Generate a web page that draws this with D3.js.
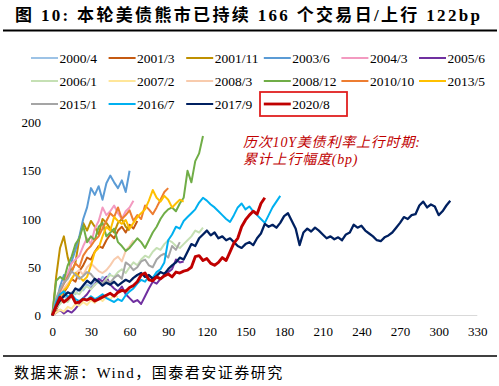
<!DOCTYPE html>
<html>
<head>
<meta charset="utf-8">
<script src="https://cdn.jsdelivr.net/npm/d3@7"></script>
<style>
  body { margin: 0; background: #fff; }
  text { font-family: "Liberation Serif", "Noto Sans CJK SC", serif; }
</style>
</head>
<body>
<script>
// each series: cumulative bp rise, one value every STEP trading days
const STEP = 3;

const s2000_4  = [0, 8, 14, 20, 17, 24, 22, 28, 26, 32, 30, 36, 34, 40, 38, 44];
const s2001_3  = [0, 6, 14, 24, 30, 38, 35, 46, 52, 60, 58, 66, 72, 70, 78, 84, 80, 88, 92, 86, 94, 90, 98];
const s2001_11 = [0, 40, 70, 82, 60, 45, 55, 80, 96, 88, 98, 92, 84, 100, 96, 90, 86, 96, 100, 92, 88];
const s2003_6  = [0, 12, 30, 42, 40, 56, 68, 82, 100, 112, 132, 125, 134, 120, 137, 145, 138, 132, 140, 128, 150];
const s2004_3  = [0, 10, 22, 35, 44, 54, 58, 62, 72, 80, 74, 90, 98, 112, 104, 108, 114, 106, 100, 108, 112, 119];
const s2005_6  = [0, 3, 6, 2, 5, 3, 7, 12, 18, 22, 28, 32, 38, 35, 40, 32, 28, 25, 30, 22, 18, 14, 16, 12, 20, 28, 35, 33, 38, 42, 45, 48, 58, 55, 56];
const s2006_1  = [0, 8, 12, 16, 14, 20, 24, 22, 28, 30, 27, 32, 35, 33, 38, 42, 40, 45, 48, 44, 50, 55, 52, 58, 62, 60, 66, 70, 68, 74, 78, 76, 72, 70, 74, 78, 82, 88, 86, 91];
const s2007_2  = [0, 3, 6, 4, 9, 7, 12, 10, 14, 11, 16, 13, 18, 15, 19, 17, 21, 19];
const s2008_3  = [0, 8, 18, 28, 33, 38, 44, 47, 42, 50, 54, 50, 46, 44, 47, 52, 58, 61, 56, 67, 72, 78];
const s2008_12 = [0, 36, 40, 37, 52, 61, 74, 80, 93, 76, 82, 78, 92, 96, 82, 86, 90, 76, 72, 67, 70, 75, 80, 76, 70, 78, 86, 92, 100, 106, 110, 112, 108, 116, 122, 150, 138, 160, 168, 186];
const s2010_10 = [0, 15, 26, 33, 40, 46, 54, 50, 62, 68, 72, 78, 82, 90, 98, 106, 102, 112, 100, 104, 109, 98, 104, 100, 114, 110, 105, 112, 120, 128, 132];
const s2013_5  = [0, 12, 20, 26, 30, 38, 44, 40, 36, 40, 52, 66, 70, 82, 92, 88, 102, 98, 95, 99, 90, 96, 102, 106, 110, 119, 130, 122, 118, 124, 120, 112, 116, 120, 118];
const s2015_1  = [0, 18, 27, 34, 38, 46, 42, 38, 41, 45, 43, 38, 35, 33, 36, 34, 39, 42, 38, 55, 52, 47, 50, 56, 58, 52, 50, 58, 62, 64, 60, 72, 68, 76];
const s2016_7  = [0, 14, 22, 25, 19, 22, 17, 15, 18, 16, 20, 17, 19, 22, 18, 16, 14, 17, 15, 21, 25, 28, 33, 37, 35, 41, 39, 45, 48, 55, 78, 84, 92, 90, 98, 102, 106, 110, 117, 122, 119, 115, 112, 108, 104, 100, 97, 104, 112, 116, 110, 113, 108, 104, 100, 96, 104, 112, 118, 124];
const s2017_9  = [0, 9, 16, 20, 24, 22, 28, 26, 31, 36, 33, 38, 35, 31, 34, 32, 35, 31, 34, 37, 35, 39, 42, 44, 40, 42, 38, 41, 45, 43, 48, 52, 55, 60, 58, 66, 74, 72, 80, 84, 88, 83, 86, 80, 82, 78, 80, 76, 72, 70, 74, 76, 73, 80, 85, 95, 92, 94, 91, 96, 103, 106, 98, 90, 73, 86, 90, 87, 91, 88, 84, 80, 82, 79, 81, 78, 84, 86, 94, 91, 93, 88, 85, 82, 78, 77, 81, 83, 86, 91, 96, 102, 100, 104, 105, 114, 118, 112, 115, 113, 104, 108, 114, 119];
const s2020_8  = [0, 10, 19, 14, 17, 21, 13, 14, 17, 16, 18, 15, 17, 19, 21, 23, 20, 24, 26, 25, 29, 31, 35, 42, 44, 37, 36, 40, 38, 41, 43, 40, 45, 44, 46, 47, 50, 61, 62, 57, 59, 54, 52, 55, 60, 57, 66, 75, 80, 92, 99, 104, 108, 105, 116, 122];

const seriesNames = ["2000/4", "2001/3", "2001/11", "2003/6", "2004/3", "2005/6",
                     "2006/1", "2007/2", "2008/3", "2008/12", "2010/10", "2013/5",
                     "2015/1", "2016/7", "2017/9", "2020/8"];
const seriesValues = [s2000_4, s2001_3, s2001_11, s2003_6, s2004_3, s2005_6,
                      s2006_1, s2007_2, s2008_3, s2008_12, s2010_10, s2013_5,
                      s2015_1, s2016_7, s2017_9, s2020_8];
const colors = ["#9dc3e6", "#c55a11", "#bf9000", "#5b9bd5", "#f39ac0", "#7030a0",
                "#c5e0b4", "#ffe699", "#f8cbad", "#70ad47", "#ed7d31", "#ffc000",
                "#a5a5a5", "#00b0f0", "#002060", "#c00000"];
const xTicks = [0, 30, 60, 90, 120, 150, 180, 210, 240, 270, 300, 330];
const yTicks = [0, 50, 100, 150, 200];

const width = 499, height = 386;

const svg = d3.select("body")
              .append("svg")
              .attr("width", width)
              .attr("height", height);

// title + rules
svg.append("text")
   .attr("x", 15)
   .attr("y", 21)
   .attr("font-size", 17)
   .attr("font-weight", "bold")
   .attr("textLength", 465)
   .attr("lengthAdjust", "spacing")
   .text("图 10:  本轮美债熊市已持续 166 个交易日/上行 122bp");

svg.append("line")
   .attr("x1", 3).attr("x2", 497)
   .attr("y1", 30.5).attr("y2", 30.5)
   .attr("stroke", "#000").attr("stroke-width", 2);

svg.append("line")
   .attr("x1", 3).attr("x2", 497)
   .attr("y1", 356).attr("y2", 356)
   .attr("stroke", "#000").attr("stroke-width", 1.5);

svg.append("text")
   .attr("x", 14)
   .attr("y", 378)
   .attr("font-size", 15)
   .attr("letter-spacing", 1.5)
   .text("数据来源：Wind，国泰君安证券研究");

// scales
const x = d3.scaleLinear().domain([0, 330]).range([52.3, 477.3]);
const y = d3.scaleLinear().domain([0, 200]).range([315.5, 122.5]);

// x axis
const xAxis = svg.append("g")
                 .attr("transform", `translate(0,${y(0)})`)
                 .call(d3.axisBottom(x).tickValues(xTicks).tickSize(0).tickPadding(11));
xAxis.select(".domain").attr("stroke", "#d9d9d9").attr("stroke-width", 1.2)
     .attr("d", `M${x(0)},0H${x(330)}`);
xAxis.selectAll("text")
     .attr("font-size", 13)
     .attr("font-family", "Liberation Serif")
     .attr("fill", "#000");

// y axis (labels only)
const yAxis = svg.append("g")
                 .attr("transform", `translate(41,0)`)
                 .call(d3.axisLeft(y).tickValues(yTicks).tickSize(0).tickPadding(0));
yAxis.select(".domain").remove();
yAxis.selectAll("text")
     .attr("font-size", 13)
     .attr("font-family", "Liberation Serif")
     .attr("fill", "#000");

// lines
const line = d3.line()
               .x((d, i) => x(i * STEP))
               .y(d => y(d));

svg.append("g")
   .selectAll("path")
   .data(seriesValues)
   .enter()
     .append("path")
     .attr("d", d => line(d))
     .attr("fill", "none")
     .attr("stroke", (d, i) => colors[i])
     .attr("stroke-width", (d, i) => i === 15 ? 2.9 : (i === 14 ? 2.3 : 2))
     .attr("stroke-linejoin", "round");

// legend
const legend = svg.append("g")
                  .selectAll("g")
                  .data(seriesNames)
                  .enter()
                    .append("g")
                    .attr("transform", (d, i) => `translate(${31 + (i % 6) * 77.6},${58 + Math.floor(i / 6) * 23})`);

legend.append("line")
      .attr("x1", 0).attr("x2", 27)
      .attr("y1", 0).attr("y2", 0)
      .attr("stroke", (d, i) => colors[i])
      .attr("stroke-width", (d, i) => i === 15 ? 2.8 : 2);

legend.append("text")
      .attr("x", 28.5)
      .attr("y", 4.5)
      .attr("font-size", 13.5)
      .text(d => d);

// highlight box round 2020/8
svg.append("rect")
   .attr("x", 260).attr("y", 92)
   .attr("width", 87).attr("height", 24)
   .attr("fill", "none")
   .attr("stroke", "#e02020")
   .attr("stroke-width", 1.8);

// note
const note = svg.append("g")
                .attr("fill", "#c00000")
                .attr("font-style", "italic")
                .attr("font-size", 14);
note.append("text").attr("x", 243).attr("y", 147).attr("letter-spacing", 0.8).text("历次10Y美债利率上行时期:");
note.append("text").attr("x", 243).attr("y", 164).attr("letter-spacing", 0.8).text("累计上行幅度(bp)");
</script>
</body>
</html>
